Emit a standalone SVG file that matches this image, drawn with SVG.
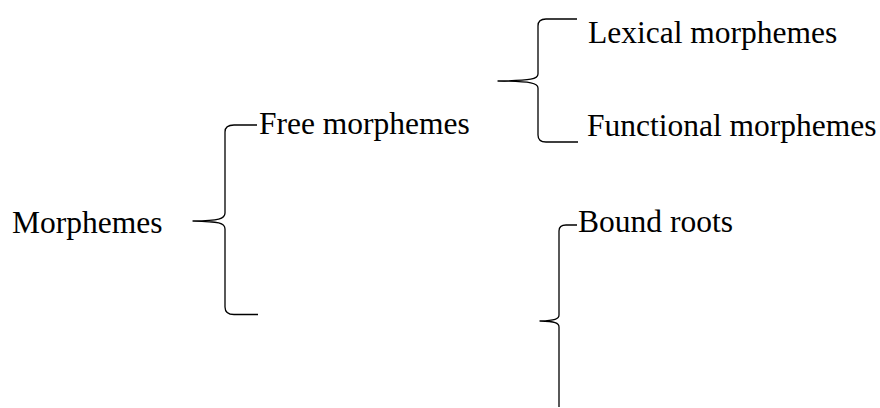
<svg xmlns="http://www.w3.org/2000/svg" width="880" height="408" viewBox="0 0 880 408">
  <style>
    .t { font-family: "Liberation Serif", "Times New Roman", serif; font-size: 31.5px; fill: #000; }
    .b { fill: none; stroke: #000; stroke-width: 1.3; stroke-linecap: butt; stroke-linejoin: round; }
  </style>
  <rect width="880" height="408" fill="#fff"/>
  <g id="connectors">
    <path class="b" d="M257,125 L234,125 Q225,125 225,132 L225,213 C225,219 219,220.5 193,221 C219,221.5 225,223 225,229 L225,307 Q225,314.5 234,314.5 L258,314.5"/>
    <path class="b" d="M577,19 L546,19 Q538,19 538,26 L538,74 C538,79 532,80.5 498,81 C532,81.5 538,83 538,88 L538,135 Q538,142 546,142 L578,142"/>
    <path class="b" d="M577,225 L566,225 Q559,225 559,231 L559,315 C559,319 555,320.5 540,321 C555,321.5 559,323 559,327 L559,407"/>
  </g>
  <g id="morphemes"><text class="t" x="12" y="233">Morphemes</text></g>
  <g id="free-morphemes"><text class="t" x="259" y="133.5">Free morphemes</text></g>
  <g id="lexical-morphemes"><text class="t" x="588" y="43">Lexical morphemes</text></g>
  <g id="functional-morphemes"><text class="t" x="587" y="136">Functional morphemes</text></g>
  <g id="bound-roots"><text class="t" x="578" y="232">Bound roots</text></g>
</svg>
